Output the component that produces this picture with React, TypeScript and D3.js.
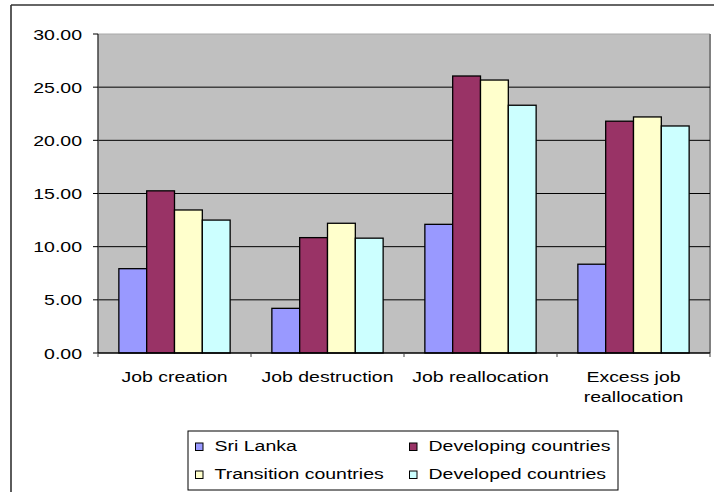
import React from "react";
import * as d3 from "d3";

const categories = ["Job creation", "Job destruction", "Job reallocation", "Excess job reallocation"];
const categoryLines = [["Job creation"], ["Job destruction"], ["Job reallocation"], ["Excess job", "reallocation"]];
const seriesNames = ["Sri Lanka", "Developing countries", "Transition countries", "Developed countries"];
const sriLanka = [7.93, 4.2, 12.1, 8.35];
const developing = [15.25, 10.85, 26.05, 21.8];
const transition = [13.45, 12.2, 25.67, 22.2];
const developed = [12.5, 10.8, 23.3, 21.35];
const seriesColors = ["#9999FF", "#993366", "#FFFFCC", "#CCFFFF"];
const yTicks = [0, 5, 10, 15, 20, 25, 30];

const SX = 1.3;

function T({ x, y, anchor = "start", children, size = 15 }: { x: number; y: number; anchor?: string; children: any; size?: number }) {
  return (
    <text transform={`translate(${x},${y}) scale(${SX},1)`} textAnchor={anchor} fontSize={size} fill="#000">
      {children}
    </text>
  );
}

export default function App() {
  const W = 714, H = 492;
  const left = 98, right = 710, top = 34, bottom = 353;
  const allSeries = [sriLanka, developing, transition, developed];
  const y = d3.scaleLinear().domain([0, 30]).range([bottom, top]);
  const x0 = d3.scaleBand().domain(categories).range([left, right]).paddingInner(0).paddingOuter(0);
  const bw = x0.bandwidth() / 5.5;
  const font = "'Liberation Sans', Arial, sans-serif";

  return (
    <svg width={W} height={H} style={{ position: "absolute", left: 0, top: 0, display: "block" }} fontFamily={font}>
      <rect x={0} y={0} width={W} height={H} fill="#fff" />
      {/* outer chart border */}
      <line x1={11} y1={5} x2={W} y2={5} stroke="#333" strokeWidth={1.6} />
      <line x1={11} y1={5} x2={11} y2={H} stroke="#333" strokeWidth={1.6} />
      {/* plot area */}
      <rect x={left} y={top} width={right - left} height={bottom - top} fill="#C0C0C0" />
      <line x1={left} y1={top} x2={right} y2={top} stroke="#a8a8a8" strokeWidth={1} />
      <line x1={right} y1={top} x2={right} y2={bottom} stroke="#808080" strokeWidth={2} />
      {yTicks.filter(t => t > 0 && t < 30).map(t => (
        <line key={t} x1={left} x2={right} y1={y(t)} y2={y(t)} stroke="#000" strokeWidth={1} />
      ))}
      {/* bars */}
      {categories.map((c, ci) => (
        <g key={c}>
          {allSeries.map((s, si) => {
            const bx = (x0(c) as number) + bw * 0.75 + si * bw;
            return (
              <rect key={si} x={bx} y={y(s[ci])} width={bw} height={y(0) - y(s[ci])}
                fill={seriesColors[si]} stroke="#000" strokeWidth={1.3} />
            );
          })}
        </g>
      ))}
      {/* y axis */}
      <line x1={left} y1={top} x2={left} y2={bottom} stroke="#404040" strokeWidth={1.5} />
      {yTicks.map(t => (
        <g key={t}>
          <line x1={left - 5} x2={left} y1={y(t)} y2={y(t)} stroke="#000" strokeWidth={1} />
          <T x={82} y={y(t) + 5.5} anchor="end">{t.toFixed(2)}</T>
        </g>
      ))}
      {/* x axis */}
      <line x1={left} y1={bottom} x2={right} y2={bottom} stroke="#000" strokeWidth={1.5} />
      {categories.map((c, ci) => (
        <line key={"t" + ci} x1={x0(c) as number} x2={x0(c) as number} y1={bottom} y2={bottom + 4} stroke="#404040" strokeWidth={1} />
      ))}
      <line x1={right} x2={right} y1={bottom} y2={bottom + 4} stroke="#404040" strokeWidth={1} />
      {categories.map((c, ci) =>
        categoryLines[ci].map((ln, li) => (
          <T key={c + li} x={(x0(c) as number) + x0.bandwidth() / 2} y={381.5 + li * 20} anchor="middle">{ln}</T>
        ))
      )}
      {/* legend */}
      <rect x={188} y={431} width={430} height={59} fill="#fff" stroke="#000" strokeWidth={1} />
      {seriesNames.map((n, i) => {
        const col = i % 2, row = Math.floor(i / 2);
        const lx = col === 0 ? 195.5 : 409.5;
        const base = row === 0 ? 451 : 479;
        return (
          <g key={n}>
            <rect x={lx} y={base - 8} width={7.5} height={7.5} fill={seriesColors[i]} stroke="#000" strokeWidth={1} />
            <T x={lx + 19} y={base}>{n}</T>
          </g>
        );
      })}
    </svg>
  );
}
